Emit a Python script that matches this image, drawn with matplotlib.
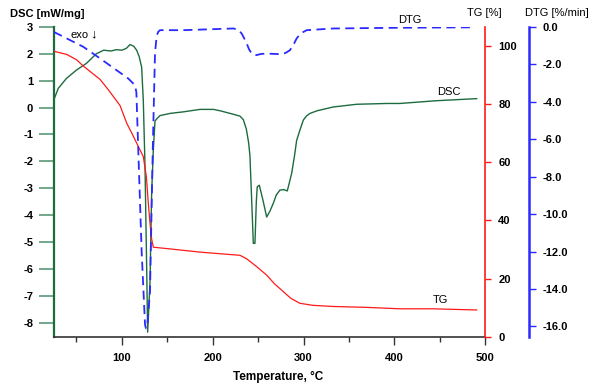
import matplotlib
matplotlib.use("Agg")
import matplotlib.pyplot as plt
from matplotlib.ticker import MultipleLocator, FormatStrFormatter

plt.rcParams['font.family'] = ['Liberation Sans', 'DejaVu Sans']
plt.rcParams['axes.unicode_minus'] = False

# DSC curve (mW/mg)
t_dsc = [25, 30, 39, 50, 61, 72, 80, 88, 94, 100, 105, 109, 113, 116.3, 119, 121.8,
         123.6, 125.5, 127.3, 128.4, 131, 132.8, 134.6, 136.5, 139, 142, 153, 168, 186,
         201, 208, 222.6, 230, 233.7, 237, 239.5, 241, 242.9, 244.7, 246.5, 248, 249,
         251.3, 255, 259.4, 263, 266.7, 270, 274, 278, 282.1, 286.9, 290, 292.4, 296,
         299.7, 303, 307, 315, 332.7, 358.4, 391.5, 406, 445, 490.5]
dsc = [0.27, 0.71, 1.08, 1.39, 1.64, 2.0, 2.13, 2.1, 2.15, 2.13, 2.2, 2.34, 2.28, 2.13,
       1.9, 1.5, 0.27, -2.2, -5.9, -8.35, -6.5, -3.2, -1.6, -0.5, -0.4, -0.3, -0.22,
       -0.16, -0.07, -0.07, -0.12, -0.25, -0.32, -0.45, -0.8, -1.3, -1.8, -3.45, -5.05,
       -5.05, -3.5, -2.95, -2.89, -3.4, -4.07, -3.85, -3.56, -3.25, -3.07, -3.05, -3.1,
       -2.45, -1.8, -1.22, -0.84, -0.47, -0.32, -0.22, -0.12, 0.02, 0.12, 0.15, 0.15,
       0.25, 0.33]

# TG curve (%)
t_tg = [25, 39.3, 50, 57.6, 66, 76, 85, 94, 98, 105.3, 112.6, 118, 123.6, 127, 129.1,
        131, 132.8, 134.6, 153, 186, 230, 237.4, 248, 259.4, 268, 277.7, 286, 296,
        310, 332.7, 369.4, 406.1, 442.7, 490.5]
tg = [98.2, 97.1, 95.3, 93.1, 91.0, 88.5, 85.0, 81.2, 79.5, 73.5, 69.0, 65.5, 62.0,
      55.0, 46.0, 39.0, 33.6, 30.8, 30.2, 29.1, 28.0, 26.8, 24.2, 21.2, 18.2, 15.5,
      13.2, 11.5, 10.8, 10.4, 10.1, 9.6, 9.6, 9.2]

# DTG curve (%/min)
t_dtg = [25, 39.3, 57.6, 76, 94.3, 107, 114.5, 116, 118.1, 121.8, 125.5, 126.5, 128,
         131, 134, 136.5, 138.3, 140, 142, 167.6, 222.6, 228, 231.9, 234.5, 237.4,
         240, 242.9, 245.5, 248.4, 253, 259.4, 274, 280, 285, 289, 292.4, 297, 303.4,
         332.7, 406.1, 483.1]
dtg = [-0.27, -0.62, -1.07, -1.69, -2.32, -2.76, -3.12, -3.5, -6.6, -12.0, -15.9, -16.1,
       -16.0, -14.1, -6.6, -1.4, -0.5, -0.27, -0.18, -0.18, -0.09, -0.15, -0.36, -0.6,
       -0.89, -1.2, -1.43, -1.5, -1.51, -1.45, -1.43, -1.46, -1.4, -1.25, -0.95, -0.62,
       -0.35, -0.18, -0.09, -0.05, -0.03]

green = '#1d6b3f'
red = '#ff1a1a'
blue = '#2a2aff'

fig = plt.figure(figsize=(6, 3.89), dpi=100)
ax = fig.add_axes([0.0895, 0.1344, 0.7193, 0.7967])
ax2 = ax.twinx()
ax3 = ax.twinx()

ax.plot(t_dsc, dsc, color=green, lw=1.0, zorder=3)
ax2.plot(t_tg, tg, color=red, lw=0.9)
ax3.plot(t_dtg, dtg, color=blue, lw=1.3, dashes=(5, 3))

ax.set_xlim(25, 500)
ax.set_ylim(-8.52, 3.0)
ax2.set_ylim(0, 106.6)
ax3.set_ylim(-16.55, 0)

ax.xaxis.set_major_locator(MultipleLocator(100))
ax.xaxis.set_minor_locator(MultipleLocator(50))
ax.yaxis.set_major_locator(MultipleLocator(1))
ax2.yaxis.set_major_locator(MultipleLocator(20))
ax3.yaxis.set_major_locator(MultipleLocator(2))
ax3.yaxis.set_major_formatter(FormatStrFormatter('%.1f'))

for a in (ax, ax2, ax3):
    a.spines['top'].set_visible(False)
for a in (ax2, ax3):
    a.spines['left'].set_visible(False)
    a.spines['bottom'].set_visible(False)
ax.spines['right'].set_visible(False)
ax.spines['left'].set_color(green)
ax.spines['left'].set_linewidth(1.6)
ax.spines['bottom'].set_color('#333333')
ax.spines['bottom'].set_linewidth(1.2)
ax2.spines['right'].set_color(red)
ax2.spines['right'].set_linewidth(1.2)
ax3.spines['right'].set_position(('outward', 31.7))
ax3.spines['right'].set_color(blue)
ax3.spines['right'].set_linewidth(1.8)

fs = 8
ax.tick_params(axis='y', length=10.8, width=1.2, color='#5a9a78', pad=4, labelsize=fs)
ax.tick_params(axis='x', which='major', length=5.8, width=1.0, color='#333333', pad=6, labelsize=fs)
ax.tick_params(axis='x', which='minor', length=3.6, width=1.0, color='#333333')
ax2.tick_params(axis='y', length=4.3, width=1.0, color=red, pad=5, labelsize=fs)
ax3.tick_params(axis='y', length=5, width=1.0, color=blue, pad=4.5, labelsize=fs)
for a in (ax, ax2, ax3):
    for lbl in a.get_xticklabels() + a.get_yticklabels():
        lbl.set_fontweight('bold')

def px(x, y):
    return x / 600, 1 - y / 389

fig.text(*px(10, 14), 'DSC [mW/mg]', fontsize=8, fontweight='bold', va='center', ha='left')
fig.text(*px(484, 13), 'TG [%]', fontsize=8, va='center', ha='center')
fig.text(*px(557, 13), 'DTG [%/min]', fontsize=8, va='center', ha='center')
fig.text(*px(278, 377), 'Temperature, \u00b0C', fontsize=8.5, fontweight='bold', va='center', ha='center')

ax.text(44, 2.69, 'exo', fontsize=8, va='center', ha='left')
ax.text(65, 2.72, '\u2193', fontsize=9.5, va='center', ha='left')
ax.text(404, 3.25, 'DTG', fontsize=8, va='center', ha='left')
ax.text(447, 0.57, 'DSC', fontsize=8, va='center', ha='left')
ax.text(442.5, -7.16, 'TG', fontsize=8, va='center', ha='left')

fig.savefig('out.png', dpi=100)
